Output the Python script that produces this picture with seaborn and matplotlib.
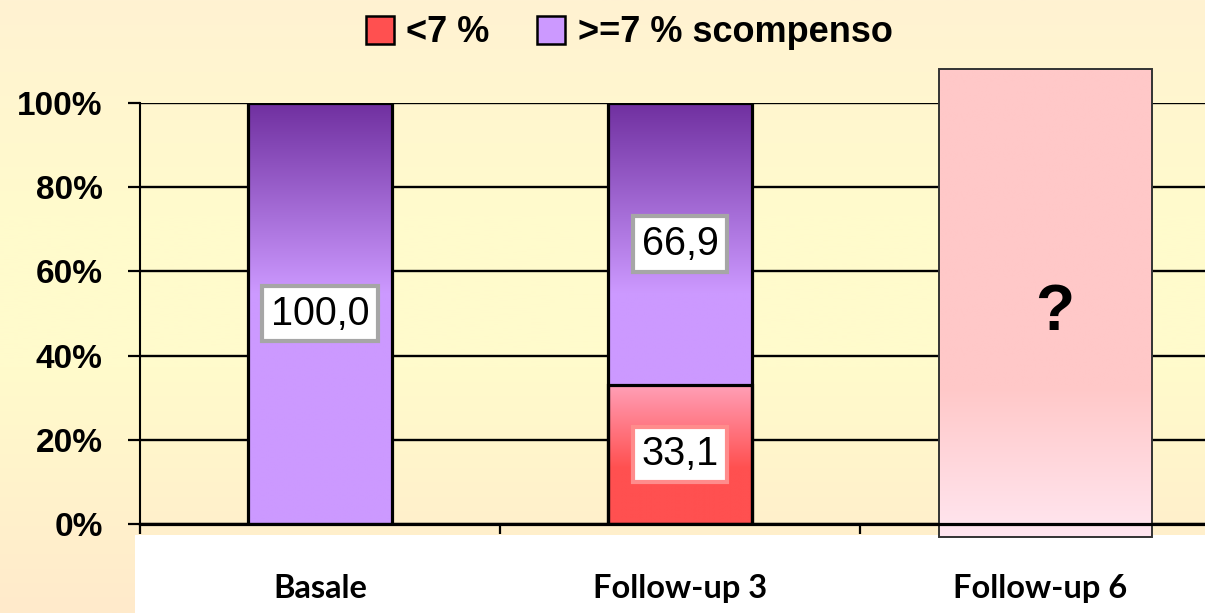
import numpy as np
import pandas as pd
import matplotlib
matplotlib.use("Agg")
import matplotlib.pyplot as plt
from matplotlib import font_manager as fm
from matplotlib.patches import Patch, Rectangle
from matplotlib.colors import to_rgb
import seaborn as sns

# ---- data -------------------------------------------------------------
categories = ["Basale", "Follow-up 3", "Follow-up 6"]
below_7 = [0.0, 33.1]          # "<7 %" share, known periods only
above_7 = [100.0, 66.9]        # ">=7 % scompenso" share
pending_label = "?"            # Follow-up 6 not yet available
pending_low, pending_high = -3.0, 108.0
y_ticks = [0, 20, 40, 60, 80, 100]
y_tick_labels = ["0%", "20%", "40%", "60%", "80%", "100%"]
legend_labels = ["<7 %", ">=7 % scompenso"]

# ---- style ------------------------------------------------------------
sns.set_theme(style="white")


def has_font(name):
    try:
        fm.findfont(fm.FontProperties(family=name), fallback_to_default=False)
        return True
    except ValueError:
        return False


NARROW = "Liberation Sans Narrow" if has_font("Liberation Sans Narrow") else "Liberation Sans"
LABEL_FONT = "Lato" if has_font("Lato") else "DejaVu Sans"
plt.rcParams["font.family"] = ["Liberation Sans", "DejaVu Sans"]
for key in ["text.color", "axes.labelcolor", "xtick.color", "ytick.color"]:
    plt.rcParams[key] = "black"

PURPLE_DARK = "#7030A0"
PURPLE_LIGHT = "#CC99FF"
RED_TOP = "#FFA0B8"
RED = "#FF5050"
PINK_TOP = "#FFC8C8"
PINK_BOTTOM = "#FFE6F0"

W, H = 1205, 613
fig = plt.figure(figsize=(W / 100, H / 100), dpi=100)

# background: soft cream gradient with a white band under the plot
bg = fig.add_axes([0, 0, 1, 1], zorder=-5)
stops = np.array([to_rgb("#FFF2D2"), to_rgb("#FFFBCC"), to_rgb("#FFFBCC"), to_rgb("#FFEACB")])
pos = np.array([0.0, 0.35, 0.6, 1.0])
yy = np.linspace(0, 1, 300)
grad = np.stack([np.interp(yy, pos, stops[:, c]) for c in range(3)], axis=-1)[:, None, :]
bg.imshow(grad, extent=[0, 1, 0, 1], aspect="auto", origin="upper")
bg.add_patch(Rectangle((135 / W, 0), 1 - 135 / W, (H - 535) / H, color="white", lw=0))
bg.set_xlim(0, 1)
bg.set_ylim(0, 1)
bg.axis("off")

ax = fig.add_axes([140 / W, 1 - 524 / H, 1 - 140 / W, (524 - 103) / H])
ax.set_facecolor("none")

total = [a + b for a, b in zip(below_7, above_7)]
df_total = pd.DataFrame({"periodo": categories[:2], "valore": total})
df_low = pd.DataFrame({"periodo": categories[:2], "valore": below_7})
df_low = df_low[df_low["valore"] > 0]

sns.barplot(data=df_total, x="periodo", y="valore", order=categories, color=PURPLE_LIGHT,
            width=0.4, edgecolor="black", linewidth=2.3, saturation=1, ax=ax, zorder=3)
n_total = len(ax.patches)
sns.barplot(data=df_low, x="periodo", y="valore", order=categories, color=RED,
            width=0.4, edgecolor="black", linewidth=2.3, saturation=1, ax=ax, zorder=3)


def vertical_gradient(colors, positions, n=300):
    cs = np.array([to_rgb(c) for c in colors])
    t = np.linspace(0, 1, n)  # 0 = top, 1 = bottom
    return np.stack([np.interp(t, positions, cs[:, c]) for c in range(3)], axis=-1)[:, None, :]


def fill_gradient(patch, img, clip=True):
    x, y = patch.get_x(), patch.get_y()
    w, h = patch.get_width(), patch.get_height()
    im = ax.imshow(img, extent=[x, x + w, y, y + h], aspect="auto", origin="upper",
                   zorder=2.5, interpolation="bilinear")
    if not clip:
        im.set_clip_on(False)
    patch.set_facecolor("none")


purple_img = vertical_gradient([PURPLE_DARK, PURPLE_LIGHT, PURPLE_LIGHT], [0, 0.45, 1])
red_img = vertical_gradient([RED_TOP, RED, RED], [0, 0.6, 1])
for i, p in enumerate(ax.patches):
    if np.isnan(p.get_height()) or p.get_height() == 0:
        continue
    fill_gradient(p, purple_img if i < n_total else red_img)

# red segment sits on top of the stacked total
for p in ax.patches[n_total:]:
    p.set_zorder(4)

# Follow-up 6 placeholder box
ph_x = 2.015
ph = ax.bar(ph_x, pending_high - pending_low, bottom=pending_low, width=0.59,
            color="none", edgecolor="#333333", linewidth=1.4, zorder=3, clip_on=False)[0]
fill_gradient(ph, vertical_gradient([PINK_TOP, PINK_TOP, PINK_BOTTOM], [0, 0.68, 1]), clip=False)
ax.text(ph_x + 0.025, 50, pending_label, ha="center", va="center", fontsize=46,
        fontweight="bold", color="black", zorder=6)


# value labels in framed white boxes
def fmt(v):
    return f"{v:.1f}".replace(".", ",")


label_size = 33 if NARROW != "Liberation Sans" else 28.5
for i, (lo, hi) in enumerate(zip(below_7, above_7)):
    if hi > 0:
        ax.text(i, lo + hi / 2, fmt(hi), ha="center", va="center", fontsize=label_size,
                family=NARROW, color="black", zorder=6,
                bbox=dict(boxstyle="square,pad=0.22", fc="white", ec="#A6A6A6", lw=3))
    if lo > 0:
        ax.text(i, lo / 2, fmt(lo), ha="center", va="center", fontsize=label_size,
                family=NARROW, color="black", zorder=6,
                bbox=dict(boxstyle="square,pad=0.22", fc="white", ec="#FF8C8C", lw=3))

# axes, grid and ticks
ax.set_xlim(-0.5, (W - 140) / 360 - 0.5)
ax.set_ylim(0, 100)
ax.set_yticks(y_ticks)
ax.set_yticklabels(y_tick_labels)
ax.yaxis.grid(True, color="black", linewidth=1.7, zorder=1)
ax.xaxis.grid(False)
ax.set_axisbelow(True)
for s in ["top", "right"]:
    ax.spines[s].set_visible(False)
ax.spines["left"].set_color("black")
ax.spines["left"].set_linewidth(1.5)
ax.spines["bottom"].set_color("black")
ax.spines["bottom"].set_linewidth(2.3)
ax.spines["bottom"].set_zorder(5)

ax.tick_params(axis="y", direction="out", length=9, width=1.6, color="black", pad=18,
               labelsize=24, labelcolor="black", left=True)
for t in ax.get_yticklabels():
    t.set_fontweight("bold")

ax.set_xticks(range(len(categories)))
ax.set_xticklabels(categories)
ax.set_xticks([-0.5, 0.5, 1.5], minor=True)
ax.tick_params(axis="x", which="major", length=0, pad=36, labelsize=23.5, labelcolor="black")
ax.tick_params(axis="x", which="minor", direction="out", length=7.5, width=1.6,
               color="black", bottom=True)
for t in ax.get_xticklabels():
    t.set_fontweight("bold")
    t.set_family(LABEL_FONT)
ax.set_xlabel("")
ax.set_ylabel("")

# legend
handles = [
    Patch(facecolor=RED, edgecolor="black", linewidth=1.8, label=legend_labels[0]),
    Patch(facecolor=PURPLE_LIGHT, edgecolor="black", linewidth=1.8, label=legend_labels[1]),
]
leg = fig.legend(handles=handles, loc="center", bbox_to_anchor=(629 / W, 1 - 33 / H), ncol=2,
                 frameon=False, prop=dict(weight="bold", size=26), handlelength=0.78,
                 handleheight=0.78, handletextpad=0.35, columnspacing=1.3)
for t in leg.get_texts():
    t.set_color("black")

fig.savefig("out.png", dpi=100)
